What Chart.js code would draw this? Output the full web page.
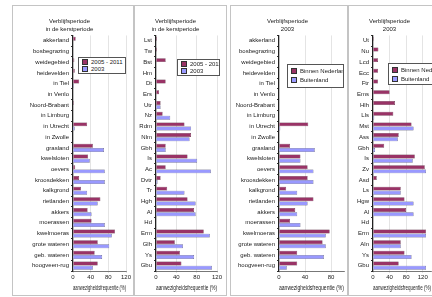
<!DOCTYPE html>
<html>
<head>
<meta charset="utf-8">
<script src="https://cdn.jsdelivr.net/npm/chart.js@4"></script>
<style>
  body { margin: 0; background: #fff; width: 432px; height: 297px; overflow: hidden; position: relative; font-family: "Liberation Sans", Arial, sans-serif; }
  .panel { position: absolute; border: 1px solid #c4c4c4; }
  .panel canvas { position: absolute; left: 0; top: 0; }
  .legend { position: absolute; background: #fff; border: 1px solid #555; font-size: 6px; color: #222; padding: 1px 3px; box-sizing: border-box; z-index: 2; white-space: nowrap; overflow: hidden; }
  .legend .row { display: flex; align-items: center; }
  .legend .sw { width: 4px; height: 4px; margin-right: 3px; border: 0.5px solid #333; flex: none; }
</style>
</head>
<body>
<div class="panel" style="left:12px;top:5px;width:121px;height:289px"><canvas id="p1" width="121" height="289"></canvas></div>
<div class="panel" style="left:133px;top:5px;width:92px;height:289px"><canvas id="p2" width="92" height="289"></canvas></div>
<div class="panel" style="left:230px;top:5px;width:117px;height:289px"><canvas id="p3" width="117" height="289"></canvas></div>
<div class="panel" style="left:347px;top:5px;width:86px;height:289px"><canvas id="p4" width="86" height="289"></canvas></div>

<div class="legend" id="lg1" style="left:78px;top:57px;width:48px;height:17px"></div>
<div class="legend" id="lg2" style="left:177px;top:59px;width:43px;height:17px"></div>
<div class="legend" id="lg3" style="left:287px;top:64px;width:57px;height:24px;padding-top:3px"></div>
<div class="legend" id="lg4" style="left:388px;top:63px;width:50px;height:22px;padding-top:3px"></div>

<script>
// categories
const habitats = [
  "akkerland", "bosbegrazing", "weidegebied", "heidevelden", "in Tiel",
  "in Venlo", "Noord-Brabant", "in Limburg", "in Utrecht", "in Zwolle",
  "grasland", "kwelsloten", "oevers", "kroosdekken", "kalkgrond",
  "rietlanden", "akkers", "moerassen", "kwelmoeras", "grote wateren",
  "geb. wateren", "hoogveen-rug"
];
const sitesXmas = [
  "Lst", "Tw", "Bst", "Hm", "Dt", "Ers", "Utr", "Nz", "Rdm", "Nlm", "Gbh",
  "Is", "Ac", "Dvtr", "Tr", "Hgh", "Al", "Hd", "Erm", "Glh", "Ys", "Gbu"
];
const sites2003 = [
  "Ut", "Nu", "Lcd", "Ecc", "Ftr", "Ems", "Hlh", "Lls", "Mst", "Ass", "Gbh",
  "Is", "Zv", "Asd", "Ls", "Hgw", "Al", "Hd", "Erm", "Aln", "Ys", "Gbu"
];

// titles and legends
const titleXmas = ["Verblijfsperiode", "in de kerstperiode"];
const title2003 = ["Verblijfsperiode", "2003"];
const legendXmas = ["2005 - 2011", "2003"];
const legendRegion = ["Binnen Nederland", "Buitenland"];
const xTitle = "aanwezigheidsfrequentie (%)";

// series values (%)
const p1First  = [6, 0, 3, 4, 14, 0, 2, 0, 32, 0, 45, 34, 5, 14, 18, 62, 33, 42, 95, 56, 49, 56];
const p1Second = [0, 0, 0, 0, 2, 0, 0, 0, 4, 0, 70, 38, 72, 72, 32, 56, 42, 72, 88, 82, 66, 45];
const p2First  = [2, 2, 19, 0, 19, 6, 9, 13, 56, 69, 19, 62, 19, 9, 22, 62, 75, 0, 94, 37, 47, 50];
const p2Second = [0, 0, 0, 0, 0, 0, 9, 28, 69, 66, 19, 81, 108, 3, 56, 78, 78, 0, 106, 53, 75, 110];
const p3First  = [0, 0, 0, 0, 0, 0, 0, 0, 45, 0, 17, 33, 44, 44, 11, 53, 25, 17, 78, 67, 28, 28];
const p3Second = [0, 0, 0, 0, 0, 0, 0, 0, 2, 0, 55, 33, 53, 53, 28, 44, 28, 33, 72, 72, 69, 12];
const p4First  = [2, 13, 12, 12, 12, 40, 53, 49, 93, 62, 27, 101, 125, 9, 67, 76, 80, 0, 128, 67, 76, 62];
const p4Second = [0, 0, 0, 0, 0, 0, 0, 3, 98, 60, 5, 96, 128, 0, 67, 98, 98, 0, 128, 67, 93, 128];

const maroon = "#993366";
const lavender = "#9999ff";
const textColor = "#1a1a1a";
const font = { family: "'Liberation Sans', Arial, sans-serif", size: 6 };

function makeChart(id, cfg) {
  return new Chart(document.getElementById(id), {
    type: "bar",
    data: {
      labels: cfg.labels,
      datasets: [
        { label: cfg.legend[0], data: cfg.first, backgroundColor: maroon, borderColor: "#4d1a33", borderWidth: 0.5 },
        { label: cfg.legend[1], data: cfg.second, backgroundColor: lavender, borderColor: "#3c3c66", borderWidth: 0.5 },
      ],
    },
    options: {
      indexAxis: "y",
      responsive: false,
      animation: false,
      layout: { padding: { left: 0, right: cfg.padRight, top: 0, bottom: 3 } },
      datasets: { bar: { categoryPercentage: 0.78, barPercentage: 0.95 } },
      plugins: {
        legend: { display: false },
        tooltip: { enabled: false },
        title: {
          display: true,
          text: cfg.title,
          color: textColor,
          font: { ...font, weight: "normal", lineHeight: 1.33 },
          padding: { top: 11, bottom: 2.5 },
        },
      },
      scales: {
        x: {
          min: 0,
          max: cfg.max,
          ticks: { stepSize: 20, font: font, color: textColor, padding: 1, maxRotation: 0 },
          grid: { color: "#d2d2d2", lineWidth: 0.6, tickLength: 2 },
          border: { color: "#777" },
          title: { display: true, text: xTitle, font: { ...font, size: 6.5 }, color: textColor, padding: { top: 2, bottom: 0 } },
        },
        y: {
          ticks: { font: font, color: textColor, padding: 2, autoSkip: false },
          grid: { drawOnChartArea: false, tickLength: 2, color: "#333" },
          border: { color: "#222", width: 1.2 },
          afterFit: (s) => { s.width = cfg.axisX; },
        },
      },
    },
  });
}

function makeLegend(id, names) {
  const box = document.getElementById(id);
  [maroon, lavender].forEach((c, i) => {
    const row = document.createElement("div");
    row.className = "row";
    if (i > 0) row.style.marginTop = id === "lg1" || id === "lg2" ? "1px" : "3px";
    const sw = document.createElement("span");
    sw.className = "sw";
    sw.style.background = c;
    const t = document.createElement("span");
    t.textContent = names[i];
    row.appendChild(sw);
    row.appendChild(t);
    box.appendChild(row);
  });
}

makeChart("p1", { labels: habitats, first: p1First, second: p1Second, legend: legendXmas, title: titleXmas, max: 120, axisX: 60, padRight: 8 });
makeChart("p2", { labels: sitesXmas, first: p2First, second: p2Second, legend: legendXmas, title: titleXmas, max: 120, axisX: 22, padRight: 9 });
makeChart("p3", { labels: habitats, first: p3First, second: p3Second, legend: legendRegion, title: title2003, max: 100, axisX: 48, padRight: 4 });
makeChart("p4", { labels: sites2003, first: p4First, second: p4Second, legend: legendRegion, title: title2003, max: 140, axisX: 25, padRight: 3 });

makeLegend("lg1", legendXmas);
makeLegend("lg2", legendXmas);
makeLegend("lg3", legendRegion);
makeLegend("lg4", legendRegion);
</script>
</body>
</html>
